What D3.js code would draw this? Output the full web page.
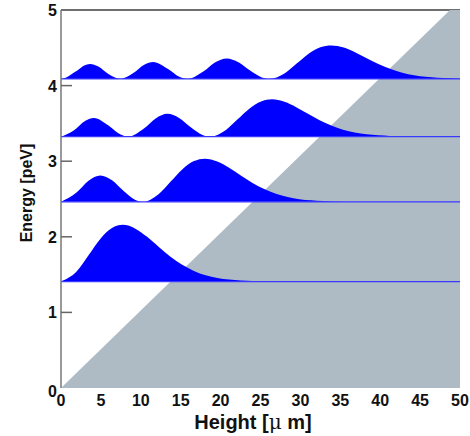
<!DOCTYPE html>
<html lang="en">
<head>
<meta charset="UTF-8">
<title>Neutron states</title>
<script src="https://d3js.org/d3.v7.min.js"></script>
<style>
  body { margin: 0; background: #fff; }
  text { font-family: "Liberation Sans", Arial, sans-serif; font-weight: bold; fill: #111; }
</style>
</head>
<body>
<div id="chart"></div>
<script>
// energy levels [peV]
var levels = [1.408, 2.462, 3.325, 4.088];

// probability density above each level: [height um, offset peV]
var state1 = [[0,0],[1.98,0.135],[3.45,0.348],[4.92,0.564],[6.39,0.707],[7.74,0.750],[9.32,0.700],
  [10.79,0.592],[12.26,0.458],[13.72,0.329],[15.19,0.222],[16.66,0.140],[18.13,0.083],[19.60,0.048],
  [21.06,0.026],[22.53,0.013],[25.47,0.0032],[28.40,0.0006],[31.34,0.0001],[50,0]];
var state2 = [[0,0],[1.98,0.126],[3.45,0.280],[4.93,0.350],[6.39,0.286],[7.85,0.143],[9.32,0.025],
  [10.27,0],[12.26,0.103],[13.72,0.265],[15.19,0.429],[16.66,0.539],[18.02,0.572],[19.59,0.534],
  [21.06,0.451],[22.53,0.349],[24.00,0.251],[25.46,0.169],[26.93,0.107],[28.40,0.064],[29.87,0.036],
  [31.33,0.020],[32.80,0.010],[35.74,0.0024],[38.67,0.0005],[41.61,0.0001],[50,0]];
var state3 = [[0,0],[1.59,0.082],[3.06,0.211],[4.11,0.248],[5.99,0.145],[7.46,0.028],[8.41,0],
  [10.39,0.108],[11.86,0.241],[13.34,0.302],[14.80,0.246],[16.26,0.123],[17.73,0.022],[18.68,0],
  [20.67,0.089],[22.13,0.229],[23.60,0.370],[25.07,0.464],[26.43,0.493],[28.00,0.460],[29.47,0.389],
  [30.94,0.301],[32.41,0.216],[33.87,0.146],[35.34,0.092],[36.81,0.055],[38.28,0.031],[39.74,0.017],
  [41.21,0.009],[44.15,0.002],[47.08,0.0004],[50,0.0001]];
var state4 = [[0,0],[0.22,0.002],[1.68,0.087],[3.15,0.189],[3.66,0.198],[4.62,0.168],[6.09,0.055],[7.43,0],
  [9.02,0.074],[10.49,0.191],[11.54,0.224],[13.42,0.131],[14.89,0.025],[15.84,0],
  [17.83,0.098],[19.29,0.218],[20.77,0.272],[22.23,0.222],[23.70,0.111],[25.16,0.020],[26.11,0],
  [28.10,0.080],[29.57,0.206],[31.03,0.334],[32.50,0.419],[33.86,0.444],[35.44,0.415],[36.90,0.350],
  [38.37,0.271],[39.84,0.195],[41.31,0.131],[42.77,0.083],[44.24,0.049],[45.71,0.028],[47.18,0.015],
  [48.64,0.008],[50,0.004]];
var states = [state1, state2, state3, state4];

// gravitational potential mgz, shaded region
var potential = [[0,0],[48.75,5],[50,5],[50,0]];

var xTicks = [0,5,10,15,20,25,30,35,40,45,50];
var yTicks = [0,1,2,3,4,5];

var width = 470, height = 436;
var x = d3.scaleLinear().domain([0,50]).range([61,460]);
var y = d3.scaleLinear().domain([0,5]).range([388,10]);

var svg = d3.select("#chart").append("svg")
  .attr("width", width).attr("height", height);

svg.append("defs").append("clipPath").attr("id","clip")
  .append("rect").attr("x",61).attr("y",9).attr("width",400).attr("height",379);

// top frame line
svg.append("line")
  .attr("x1", x(0)).attr("x2", x(50)).attr("y1", y(5)).attr("y2", y(5))
  .attr("stroke","#6e6e6e").attr("stroke-width",2);

var plot = svg.append("g").attr("clip-path","url(#clip)");

// shaded potential
plot.append("path")
  .datum(potential)
  .attr("d", d3.line().x(function(d){ return x(d[0]); }).y(function(d){ return y(d[1]); }))
  .attr("fill","#aebbc5");

// wavefunction densities
states.forEach(function(s, i) {
  var e = levels[i];
  plot.append("path")
    .datum(s)
    .attr("d", d3.area()
      .curve(d3.curveMonotoneX)
      .x(function(d){ return x(d[0]); })
      .y0(y(e))
      .y1(function(d){ return y(e + d[1]); }))
    .attr("fill","#0000ff");
  plot.append("line")
    .attr("x1", x(0)).attr("x2", x(50)).attr("y1", y(e)).attr("y2", y(e))
    .attr("stroke","#3a3aff").attr("stroke-width",1.2);
});

// left axis line
svg.append("line")
  .attr("x1", x(0)).attr("x2", x(0)).attr("y1", y(5)).attr("y2", y(0))
  .attr("stroke","#777").attr("stroke-width",1.5);

// y ticks (inside)
svg.selectAll(".ytick").data(yTicks.slice(1,5)).enter().append("line")
  .attr("x1", x(0)).attr("x2", x(0)+11)
  .attr("y1", function(d){ return y(d); }).attr("y2", function(d){ return y(d); })
  .attr("stroke","#666").attr("stroke-width",1.5);

svg.selectAll(".ylab").data(yTicks).enter().append("text")
  .attr("x", 57).attr("y", function(d){ return y(d) + 6 + (d === 0 ? 3 : 0); })
  .attr("text-anchor","end").attr("font-size",16)
  .text(function(d){ return d; });

svg.selectAll(".xlab").data(xTicks).enter().append("text")
  .attr("x", function(d){ return x(d); }).attr("y", 406)
  .attr("text-anchor","middle").attr("font-size",16)
  .text(function(d){ return d; });

// axis titles
svg.append("text")
  .attr("transform","translate(31.5,193) rotate(-90)")
  .attr("text-anchor","middle").attr("font-size",16)
  .text("Energy [peV]");

var xt = svg.append("text")
  .attr("x", 253).attr("y", 429)
  .attr("text-anchor","middle").attr("font-size",20);
xt.append("tspan").text("Height [");
xt.append("tspan").attr("font-weight","normal").attr("font-family","'DejaVu Serif', serif").text("\u03bc");
xt.append("tspan").text(" m]");
</script>
</body>
</html>
